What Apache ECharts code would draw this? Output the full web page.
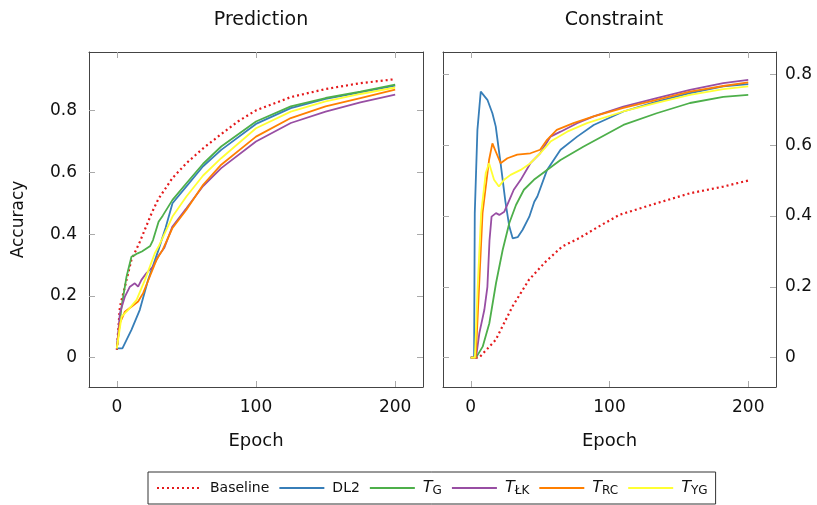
<!DOCTYPE html>
<html lang="en">
<head>
	<meta charset="UTF-8">
	<title>prediction-constraint</title>
	<script src="https://cdn.jsdelivr.net/npm/echarts@6/dist/echarts.min.js"></script>
	<style>
		html, body { margin: 0; padding: 0; background: #fff; }
	</style>
</head>
<body>
	<div id="chart" style="width: 817px; height: 505px;"></div>
	<script type="text/javascript">

		// accuracy per epoch: [epoch, accuracy]
		const predBaseline = [[0,0.025],[2.2,0.165],[5.8,0.23],[10.5,0.317],[16.5,0.375],[25,0.468],[30,0.515],[40,0.582],[50,0.63],[62,0.678],[75,0.724],[87,0.765],[100,0.801],[125,0.844],[150,0.87],[175,0.889],[200,0.902]];
		const predDL2 = [[0,0.03],[4,0.03],[10.5,0.09],[16.5,0.155],[22.5,0.252],[30,0.35],[35,0.42],[40,0.5],[50,0.555],[62,0.62],[75,0.673],[100,0.757],[125,0.808],[150,0.838],[175,0.859],[200,0.881]];
		const predTG = [[0,0.03],[3.4,0.165],[7,0.263],[10.5,0.327],[13,0.333],[15,0.338],[18,0.344],[24,0.362],[26,0.381],[30,0.44],[33,0.46],[40,0.511],[50,0.565],[62,0.628],[75,0.684],[100,0.765],[125,0.814],[150,0.841],[175,0.862],[200,0.884]];
		const predTLK = [[0,0.03],[2.2,0.144],[5.8,0.198],[9.4,0.23],[12.9,0.241],[15.3,0.23],[17.7,0.252],[21.3,0.274],[26,0.295],[30,0.33],[34,0.355],[40,0.425],[50,0.484],[62,0.556],[75,0.614],[100,0.7],[125,0.76],[150,0.797],[175,0.827],[200,0.852]];
		const predTRC = [[0,0.03],[2.2,0.112],[5.8,0.149],[10.5,0.165],[15.3,0.182],[18.9,0.209],[23.7,0.263],[28.5,0.317],[33,0.35],[40,0.42],[50,0.479],[62,0.56],[75,0.625],[100,0.716],[125,0.776],[150,0.814],[175,0.841],[200,0.868]];
		const predTYG = [[0,0.03],[3.4,0.133],[8.2,0.155],[14.2,0.187],[20.2,0.252],[27.3,0.338],[30,0.36],[34.5,0.403],[40,0.457],[50,0.522],[62,0.59],[75,0.646],[100,0.743],[125,0.797],[150,0.83],[175,0.854],[200,0.875]];

		const conBaseline = [[0,0],[6,0],[18,0.05],[30,0.144],[42,0.22],[54,0.271],[66,0.314],[78,0.337],[90,0.365],[107,0.403],[134,0.436],[158,0.464],[182,0.483],[200,0.5]];
		const conDL2 = [[0,0],[2.4,0],[2.9,0.408],[4.8,0.643],[7.2,0.751],[8.4,0.751],[12,0.728],[15.6,0.69],[18,0.653],[21.5,0.549],[25,0.44],[27.8,0.37],[30.2,0.337],[33.8,0.34],[37.4,0.361],[42.2,0.398],[45.8,0.44],[48,0.455],[55,0.53],[64.7,0.587],[76.7,0.624],[88.6,0.657],[110,0.695],[134,0.723],[158,0.747],[182,0.766],[200,0.772]];
		const conTG = [[0,0],[3.8,0],[8.6,0.031],[13.4,0.097],[18.2,0.21],[23,0.304],[27.8,0.38],[32.6,0.431],[38.3,0.474],[45.5,0.502],[55,0.53],[64.7,0.558],[81.4,0.596],[110,0.657],[134,0.69],[158,0.719],[182,0.736],[200,0.742]];
		const conTLK = [[0,0],[3.8,0],[6.2,0.069],[9.8,0.135],[12,0.2],[13.5,0.33],[15,0.398],[18.2,0.408],[20.6,0.403],[24.2,0.412],[27.8,0.445],[31,0.474],[36,0.502],[43,0.549],[50,0.577],[57.5,0.624],[64.7,0.638],[76.7,0.662],[88.6,0.681],[110,0.709],[134,0.733],[158,0.756],[182,0.775],[200,0.784]];
		const conTRC = [[0,0],[3.6,0],[6,0.2],[8.5,0.408],[13.2,0.558],[15.6,0.605],[18,0.582],[21.5,0.549],[26.4,0.563],[33.5,0.573],[43,0.577],[50,0.587],[55,0.615],[62,0.643],[74,0.662],[88.6,0.681],[110,0.705],[134,0.728],[158,0.751],[182,0.767],[200,0.777]];
		const conTYG = [[0,0],[3,0],[5,0.2],[7.5,0.408],[10.8,0.521],[13.2,0.549],[16.8,0.502],[20.3,0.483],[24,0.502],[28.7,0.516],[36,0.53],[43,0.549],[50,0.577],[57.5,0.61],[69.5,0.638],[83.8,0.662],[110,0.695],[134,0.719],[158,0.742],[182,0.758],[200,0.766]];

		const xTicks = [0, 100, 200];
		const yTicks = [0, 0.2, 0.4, 0.6, 0.8];
		const seriesNames = ['Baseline', 'DL2', 'TG', 'TLK', 'TRC', 'TYG'];
		const legendLabels = {
			Baseline: 'Baseline',
			DL2: 'DL2',
			TG: '{i|T}{s|G}',
			TLK: '{i|T}{s|ŁK}',
			TRC: '{i|T}{s|RC}',
			TYG: '{i|T}{s|YG}'
		};
		const colors = ['#e41a1c', '#377eb8', '#4daf4a', '#984ea3', '#ff7f00', '#ffff33'];

		const font = 'DejaVu Sans';

		const chart = echarts.init(document.getElementById('chart'));

		function xAxisFor(grid, top) {
			return {
				type: 'value', gridIndex: grid, min: -20, max: 220,
				position: top ? 'top' : 'bottom',
				name: top ? '' : 'Epoch', nameLocation: 'middle', nameGap: 45,
				nameTextStyle: { fontFamily: font, fontSize: 18, color: '#111' },
				axisLine: { show: true, onZero: false, lineStyle: { color: '#444', width: 1 } },
				axisTick: { show: true, inside: true, length: 6, customValues: xTicks, lineStyle: { color: '#aaa', width: 1 } },
				axisLabel: { show: !top, customValues: xTicks, margin: 12, fontFamily: font, fontSize: 17, color: '#111' },
				splitLine: { show: false }
			};
		}

		function yAxisFor(grid, right, min, max, labels, name) {
			return {
				type: 'value', gridIndex: grid, min: min, max: max,
				position: right ? 'right' : 'left',
				name: name, nameLocation: 'middle', nameGap: 62,
				nameTextStyle: { fontFamily: font, fontSize: 17, color: '#111' },
				axisLine: { show: true, onZero: false, lineStyle: { color: '#444', width: 1 } },
				axisTick: { show: true, inside: true, length: 6, customValues: yTicks, lineStyle: { color: '#aaa', width: 1 } },
				axisLabel: { show: labels, customValues: yTicks, margin: right ? 9 : 12, fontFamily: font, fontSize: 17, color: '#111' },
				splitLine: { show: false }
			};
		}

		function lineSeries(idx, xi, yi, data) {
			const dotted = idx === 0;
			return {
				name: seriesNames[idx], type: 'line', xAxisIndex: xi, yAxisIndex: yi,
				data: data, symbol: 'none', smooth: false,
				lineStyle: { color: colors[idx], width: dotted ? 2.2 : 1.8, type: dotted ? [2, 3] : 'solid' },
				itemStyle: { color: colors[idx] },
				z: dotted ? 1 : 2 + idx
			};
		}

		const predData = [predBaseline, predDL2, predTG, predTLK, predTRC, predTYG];
		const conData = [conBaseline, conDL2, conTG, conTLK, conTRC, conTYG];
		const series = [];
		predData.forEach((d, i) => series.push(lineSeries(i, 0, 0, d)));
		conData.forEach((d, i) => series.push(lineSeries(i, 2, 3, d)));

		chart.setOption({
			animation: false,
			title: [
				{ text: 'Prediction', left: 256, top: 6, textAlign: 'center', textStyle: { fontFamily: font, fontSize: 19, fontWeight: 'normal', color: '#111' } },
				{ text: 'Constraint', left: 609, top: 6, textAlign: 'center', textStyle: { fontFamily: font, fontSize: 19, fontWeight: 'normal', color: '#111' } }
			],
			grid: [
				{ left: 89, right: 394, top: 52, bottom: 118 },
				{ left: 443, right: 41, top: 52, bottom: 118 }
			],
			xAxis: [xAxisFor(0, false), xAxisFor(0, true), xAxisFor(1, false), xAxisFor(1, true)],
			yAxis: [
				yAxisFor(0, false, -0.095, 0.99, true, 'Accuracy'),
				yAxisFor(0, true, -0.095, 0.99, false, ''),
				yAxisFor(1, false, -0.083, 0.863, false, ''),
				yAxisFor(1, true, -0.083, 0.863, true, '')
			],
			legend: {
				data: seriesNames,
				left: 148, top: 472,
				padding: [8, 8, 7, 8],
				itemGap: 9, itemWidth: 45, itemHeight: 14,
				itemStyle: { opacity: 0 },
				lineStyle: { width: 2 },
				borderColor: '#333', borderWidth: 1, borderRadius: 0,
				formatter: (name) => legendLabels[name],
				textStyle: {
					fontFamily: font, fontSize: 14, color: '#111', padding: [0, 0, 0, 3],
					rich: {
						i: { fontFamily: font, fontSize: 16, fontStyle: 'italic', color: '#111', lineHeight: 18 },
						s: { fontFamily: font, fontSize: 12, color: '#111', verticalAlign: 'bottom', lineHeight: 18, padding: [5, 0, 0, 0] }
					}
				}
			},
			series: series
		});
	</script>
</body>
</html>
